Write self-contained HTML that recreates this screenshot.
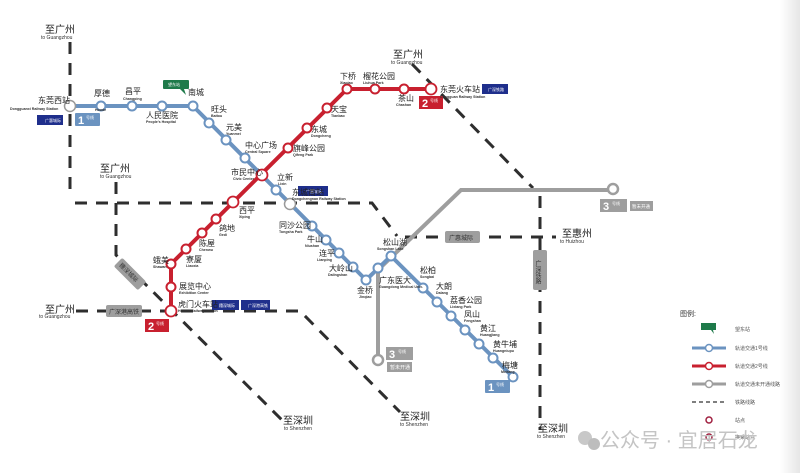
<!DOCTYPE html>
<html><head><meta charset="utf-8"><style>
html,body{margin:0;padding:0;background:#fff;}
svg{display:block;font-family:"Liberation Sans","Noto Sans CJK SC",sans-serif;}
.cn{font-size:8px;fill:#222;}
.en{font-size:3.6px;fill:#333;font-weight:bold;}
.dash{stroke:#2e2e2e;stroke-width:3;fill:none;stroke-dasharray:12 9;}
</style></head><body>
<svg width="800" height="473" viewBox="0 0 800 473" xmlns="http://www.w3.org/2000/svg">
<defs><linearGradient id="rg" x1="0" x2="1"><stop offset="0" stop-color="#fff"/><stop offset="1" stop-color="#e6e6e6"/></linearGradient></defs>
<rect x="780" y="0" width="20" height="473" fill="url(#rg)"/>
<!-- railways -->
<path class="dash" d="M70 42 V100"/>
<path class="dash" d="M70 114 V195"/>
<path class="dash" d="M75 203 H372 L397 236"/>
<path class="dash" d="M405 237 H556"/>
<path class="dash" d="M116 182 V255 L282 420"/>
<path class="dash" d="M76 311 H300 L400 412"/>
<path class="dash" d="M412 64 L533 188"/>
<path class="dash" d="M540 196 V430"/>
<!-- line 3 -->
<path d="M378 358 V270 L461 190 H610" stroke="#9e9e9e" stroke-width="4" fill="none"/>
<circle cx="613" cy="189" r="5" fill="#fff" stroke="#9e9e9e" stroke-width="2.5"/>
<circle cx="378" cy="360" r="5" fill="#fff" stroke="#9e9e9e" stroke-width="2.5"/>
<!-- line 1 -->
<path d="M70 106 H193 L366 280 L391 256 L513 377" stroke="#6b93c0" stroke-width="4" fill="none" stroke-linejoin="round"/>
<!-- line 2 -->
<path d="M431 89 H347 L171 264 V311" stroke="#c8202f" stroke-width="4" fill="none" stroke-linejoin="round"/>
<g fill="#fff" stroke="#6b93c0" stroke-width="2">
<circle cx="101" cy="106" r="4.5"/><circle cx="132" cy="106" r="4.5"/><circle cx="162" cy="106" r="4.5"/><circle cx="193" cy="106" r="4.5"/>
<circle cx="209" cy="123" r="4.5"/><circle cx="226" cy="140" r="4.5"/><circle cx="245" cy="158" r="4.5"/><circle cx="276" cy="190" r="4.5"/>
<circle cx="312" cy="226" r="4.5"/><circle cx="326" cy="240" r="4.5"/><circle cx="339" cy="253" r="4.5"/><circle cx="353" cy="267" r="4.5"/>
<circle cx="366" cy="280" r="4.5"/><circle cx="378" cy="268" r="4.5"/><circle cx="391" cy="256" r="4.5"/>
<circle cx="423" cy="288" r="4.5"/><circle cx="437" cy="302" r="4.5"/><circle cx="451" cy="316" r="4.5"/><circle cx="465" cy="330" r="4.5"/>
<circle cx="479" cy="344" r="4.5"/><circle cx="493" cy="358" r="4.5"/><circle cx="513" cy="377" r="4.5"/>
</g>
<g fill="#fff" stroke="#c8202f" stroke-width="2">
<circle cx="347" cy="89" r="4.5"/><circle cx="375" cy="89" r="4.5"/><circle cx="404" cy="89" r="4.5"/>
<circle cx="327" cy="108" r="4.5"/><circle cx="307" cy="128" r="4.5"/><circle cx="288" cy="148" r="4.5"/>
<circle cx="216" cy="219" r="4.5"/><circle cx="202" cy="233" r="4.5"/><circle cx="186" cy="249" r="4.5"/><circle cx="171" cy="264" r="4.5"/><circle cx="171" cy="287" r="4.5"/>
</g>
<g fill="#fff" stroke="#999" stroke-width="1.5">
<circle cx="70" cy="106" r="5.5"/><circle cx="290" cy="204" r="5.5"/>
</g>
<g fill="#fff" stroke="#c8202f" stroke-width="1.8">
<circle cx="431" cy="89" r="5.5"/><circle cx="262" cy="175" r="5.5"/><circle cx="233" cy="202" r="5.5"/><circle cx="171" cy="311" r="5.5"/>
</g>
<!-- badges -->
<rect x="75" y="113" width="25" height="13" fill="#6b93c0" rx="1"/><text x="78" y="124" font-size="11" fill="#fff" font-weight="bold">1</text><text x="86" y="119" font-size="4" fill="#fff">号线</text>
<rect x="485" y="380" width="25" height="13" fill="#6b93c0" rx="1"/><text x="488" y="391" font-size="11" fill="#fff" font-weight="bold">1</text><text x="496" y="386" font-size="4" fill="#fff">号线</text>
<rect x="419" y="96" width="24" height="13" fill="#c8202f"/><text x="422" y="107" font-size="11" fill="#fff" font-weight="bold">2</text><text x="430" y="102" font-size="4" fill="#fff">号线</text>
<rect x="145" y="319" width="24" height="13" fill="#c8202f"/><text x="148" y="330" font-size="11" fill="#fff" font-weight="bold">2</text><text x="156" y="325" font-size="4" fill="#fff">号线</text>
<rect x="600" y="199" width="27" height="13" fill="#9e9e9e"/><text x="603" y="210" font-size="11" fill="#fff" font-weight="bold">3</text><text x="612" y="205" font-size="4" fill="#fff">号线</text>
<rect x="630" y="201" width="23" height="10" fill="#9e9e9e"/><text x="632" y="208" font-size="4.5" fill="#fff">暂未开通</text>
<rect x="386" y="347" width="27" height="13" fill="#9e9e9e"/><text x="389" y="358" font-size="11" fill="#fff" font-weight="bold">3</text><text x="398" y="353" font-size="4" fill="#fff">号线</text>
<rect x="387" y="362" width="25" height="10" fill="#9e9e9e"/><text x="390" y="369" font-size="5" fill="#fff">暂未开通</text>
<!-- railway labels -->
<rect x="445" y="231" width="35" height="12" rx="2" fill="#9e9e9e"/><text x="449" y="240" font-size="6" fill="#333">广惠城际</text>
<rect x="106" y="305" width="36" height="12" rx="2" fill="#9e9e9e"/><text x="109" y="314" font-size="6" fill="#333">广深港高铁</text>
<rect x="533" y="250" width="14" height="40" rx="2" fill="#9e9e9e"/><text x="537" y="260" font-size="6" fill="#333" writing-mode="tb">广深铁路</text>
<g transform="translate(118,262) rotate(45)"><rect x="0" y="-6" width="34" height="12" rx="2" fill="#9e9e9e"/><text x="3" y="2" font-size="6" fill="#333">穗深城际</text></g>
<!-- railway station tags -->
<rect x="37" y="115" width="26" height="10" fill="#1f2f8c"/><text x="45" y="122" font-size="4" fill="#fff">广惠城际</text>
<rect x="298" y="186" width="30" height="10" fill="#1f2f8c"/><text x="306" y="193" font-size="4" fill="#fff">广惠城际</text>
<rect x="482" y="84" width="26" height="10" fill="#1f2f8c"/><text x="488" y="91" font-size="4" fill="#fff">广深铁路</text>
<rect x="212" y="300" width="27" height="10" fill="#1f2f8c"/><text x="219" y="307" font-size="4" fill="#fff">穗深城际</text>
<rect x="241" y="300" width="29" height="10" fill="#1f2f8c"/><text x="248" y="307" font-size="4" fill="#fff">广深港高铁</text>
<rect x="163" y="80" width="26" height="9" rx="1" fill="#1e7a4a"/><path d="M180 89 L186 95 L184 89Z" fill="#1e7a4a"/><text x="168" y="86" font-size="4" fill="#fff">望东站</text>
<!-- station labels -->
<g class="cn">
<text x="38" y="103">东莞西站</text><text x="94" y="96">厚德</text><text x="125" y="94">昌平</text><text x="146" y="118">人民医院</text><text x="188" y="95">南城</text>
<text x="211" y="112">旺头</text><text x="226" y="130">元美</text><text x="245" y="148">中心广场</text><text x="231" y="175">市民中心</text><text x="277" y="180">立新</text>
<text x="292" y="195">东城南站</text><text x="279" y="228">同沙公园</text><text x="307" y="242">牛山</text><text x="319" y="256">连平</text><text x="329" y="271">大岭山</text><text x="357" y="293">金桥</text>
<text x="379" y="283">广东医大</text><text x="383" y="245">松山湖</text><text x="420" y="273">松柏</text><text x="436" y="289">大朗</text><text x="450" y="303">荔香公园</text><text x="464" y="317">凤山</text><text x="480" y="331">黄江</text><text x="493" y="347">黄牛埔</text><text x="502" y="368">梅塘</text>
<text x="340" y="79">下桥</text><text x="363" y="79">榴花公园</text><text x="398" y="101">茶山</text><text x="440" y="92">东莞火车站</text>
<text x="331" y="112">天宝</text><text x="311" y="132">东城</text><text x="293" y="151">旗峰公园</text>
<text x="239" y="213">西平</text><text x="219" y="231">鸽地</text><text x="199" y="246">陈屋</text><text x="186" y="262">寮厦</text><text x="153" y="263">蛾美</text><text x="179" y="289">展览中心</text><text x="178" y="307">虎门火车站</text>
</g>
<g class="en">
<text x="10" y="110">Dongguanxi Railway Station</text><text x="95" y="111">Houde</text><text x="123" y="100">Changping</text><text x="146" y="123">People's Hospital</text>
<text x="211" y="117">Baitou</text><text x="226" y="135">Yuanmei</text><text x="245" y="153">Central Square</text><text x="233" y="180">Civic Center</text><text x="278" y="185">Lixin</text>
<text x="292" y="200">Dongchengnan Railway Station</text><text x="279" y="233">Tongsha Park</text><text x="305" y="247">Niushan</text><text x="317" y="261">Lianping</text><text x="328" y="276">Dalingshan</text><text x="359" y="298">Jinqiao</text>
<text x="379" y="288">Guangdong Medical Univ.</text><text x="377" y="250">Songshan Lake</text><text x="420" y="278">Songbai</text><text x="436" y="294">Dalang</text><text x="450" y="308">Lixiang Park</text><text x="464" y="322">Fengshan</text><text x="480" y="336">Huangjiang</text><text x="493" y="352">Huangniupu</text><text x="501" y="373">Meitang</text>
<text x="340" y="84">Xiaqiao</text><text x="363" y="84">Liuhua Park</text><text x="396" y="106">Chashan</text><text x="440" y="98">Dongguan Railway Station</text>
<text x="331" y="117">Tianbao</text><text x="311" y="137">Dongcheng</text><text x="293" y="156">Qifeng Park</text><text x="239" y="218">Xiping</text><text x="219" y="236">Gedi</text><text x="199" y="251">Chenwu</text><text x="186" y="267">Liaoxia</text><text x="153" y="268">Shawan</text><text x="179" y="294">Exhibition Center</text><text x="178" y="312">Humen Railway Station</text>
</g>
<!-- directions -->
<g font-size="10" fill="#222">
<text x="45" y="33">至广州</text><text x="100" y="172">至广州</text><text x="393" y="58">至广州</text><text x="45" y="313">至广州</text>
<text x="283" y="424">至深圳</text><text x="400" y="420">至深圳</text><text x="538" y="432">至深圳</text><text x="562" y="237">至惠州</text>
</g>
<g font-size="5" fill="#333">
<text x="41" y="39">to Guangzhou</text><text x="100" y="178">to Guangzhou</text><text x="391" y="64">to Guangzhou</text><text x="39" y="318">to Guangzhou</text>
<text x="284" y="430">to Shenzhen</text><text x="400" y="426">to Shenzhen</text><text x="537" y="438">to Shenzhen</text><text x="560" y="243">to Huizhou</text>
</g>
<!-- legend -->
<text x="680" y="316" font-size="7" fill="#333">图例:</text>
<rect x="701" y="323" width="15" height="7" fill="#1e7a4a"/><path d="M711 330 L714 334 L713 330Z" fill="#1e7a4a"/>
<text x="735" y="331" font-size="5" fill="#555">望东站</text>
<line x1="692" y1="348" x2="726" y2="348" stroke="#6b93c0" stroke-width="3"/><circle cx="709" cy="348" r="3.5" fill="#fff" stroke="#6b93c0" stroke-width="1.5"/><text x="735" y="350" font-size="5" fill="#555">轨道交通1号线</text>
<line x1="692" y1="366" x2="726" y2="366" stroke="#c8202f" stroke-width="3"/><circle cx="709" cy="366" r="3.5" fill="#fff" stroke="#c8202f" stroke-width="1.5"/><text x="735" y="368" font-size="5" fill="#555">轨道交通2号线</text>
<line x1="692" y1="384" x2="726" y2="384" stroke="#9e9e9e" stroke-width="3"/><circle cx="709" cy="384" r="3.5" fill="#fff" stroke="#9e9e9e" stroke-width="1.5"/><text x="735" y="386" font-size="5" fill="#555">轨道交通未开通线路</text>
<line x1="692" y1="402" x2="726" y2="402" stroke="#555" stroke-width="1.5" stroke-dasharray="4 3"/><text x="735" y="404" font-size="5" fill="#555">铁路线路</text>
<circle cx="709" cy="420" r="3" fill="#fff" stroke="#a02040" stroke-width="1.5"/><text x="735" y="422" font-size="5" fill="#555">站点</text>
<circle cx="709" cy="437" r="3" fill="#fff" stroke="#a02040" stroke-width="1.5"/><text x="735" y="439" font-size="5" fill="#555">换乘站点</text>
<!-- watermark -->
<circle cx="585" cy="438" r="7" fill="#c8c8c8"/><circle cx="594" cy="444" r="6" fill="#bdbdbd"/>
<text x="600" y="447" font-size="20" fill="#c4c4c4" font-family="Liberation Sans,Noto Sans CJK SC,sans-serif">公众号 · 宜居石龙</text>
</svg>
</body></html>
